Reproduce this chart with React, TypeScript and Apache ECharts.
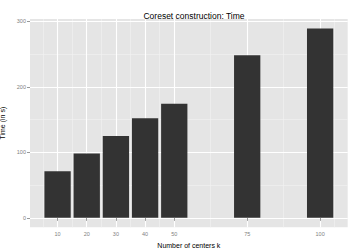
import React, { useEffect, useRef } from "react";
import * as echarts from "echarts";

const centers = [10, 20, 30, 40, 50, 75, 100];
const times = [71, 98, 125, 152, 174, 248, 289];
const xMajor = [10, 20, 30, 40, 50, 75, 100];
const xMinor = [5, 15, 25, 35, 45, 62.5, 87.5, 105];
const yMajor = [0, 100, 200, 300];
const yMinor = [50, 150, 250];

const FONT = "Liberation Sans, Arial, Helvetica, sans-serif";

export default function App() {
  const ref = useRef<HTMLDivElement>(null);
  useEffect(() => {
    if (!ref.current) return;
    const chart = echarts.init(ref.current, undefined, { renderer: "svg" });
    const xMin = 0.55, xMax = 109.45, yMin = -14.45, yMax = 303.45;
    chart.setOption({
      animation: false,
      backgroundColor: "#ffffff",
      title: {
        text: "Coreset construction: Time",
        left: 189,
        top: 6,
        textAlign: "center",
        textStyle: { fontFamily: FONT, fontSize: 8.5, fontWeight: "normal", color: "#000000" },
      },
      grid: {
        left: 30, right: 9.3, top: 19, bottom: 23.7, show: true,
        backgroundColor: "#e5e5e5", borderWidth: 0,
        containLabel: false, outerBoundsMode: "none",
      },
      xAxis: [
        {
          type: "value", min: xMin, max: xMax,
          name: "Number of centers k", nameLocation: "middle", nameGap: 9,
          nameTextStyle: { fontFamily: FONT, fontSize: 7, color: "#000000" },
          axisLine: { show: false },
          axisTick: { show: true, length: 3, lineStyle: { color: "#7f7f7f", width: 0.8 }, customValues: xMajor },
          axisLabel: { margin: 4, fontFamily: FONT, fontSize: 5.5, color: "#7f7f7f", customValues: xMajor, formatter: (v: number) => String(v) },
          splitLine: { show: true, lineStyle: { color: "#ffffff", width: 1.1 } },
          z: 2,
        },
        {
          type: "value", min: xMin, max: xMax, gridIndex: 0, position: "bottom",
          axisLine: { show: false }, axisLabel: { show: false },
          axisTick: { show: false, customValues: xMinor },
          splitLine: { show: true, lineStyle: { color: "#f2f2f2", width: 0.6 } },
          z: 1,
        },
      ],
      yAxis: [
        {
          type: "value", min: yMin, max: yMax,
          name: "Time (in s)", nameLocation: "middle", nameGap: 16,
          nameTextStyle: { fontFamily: FONT, fontSize: 7, color: "#000000" },
          axisLine: { show: false },
          axisTick: { show: true, length: 3, lineStyle: { color: "#7f7f7f", width: 0.8 }, customValues: yMajor },
          axisLabel: { margin: 4, fontFamily: FONT, fontSize: 5.5, color: "#7f7f7f", customValues: yMajor },
          splitLine: { show: true, lineStyle: { color: "#ffffff", width: 1.1 } },
          z: 2,
        },
        {
          type: "value", min: yMin, max: yMax, gridIndex: 0, position: "left",
          axisLine: { show: false }, axisLabel: { show: false },
          axisTick: { show: false, customValues: yMinor },
          splitLine: { show: true, lineStyle: { color: "#f2f2f2", width: 0.6 } },
          z: 1,
        },
      ],
      series: [
        {
          type: "bar",
          xAxisIndex: 0, yAxisIndex: 0,
          data: centers.map((c, i) => [c, times[i]]),
          barWidth: 26.3,
          itemStyle: { color: "#333333" },
          z: 3,
        },
      ],
    });
    return () => chart.dispose();
  }, []);
  return <div ref={ref} style={{ width: 357, height: 251, position: "absolute", left: 0, top: 0 }} />;
}
